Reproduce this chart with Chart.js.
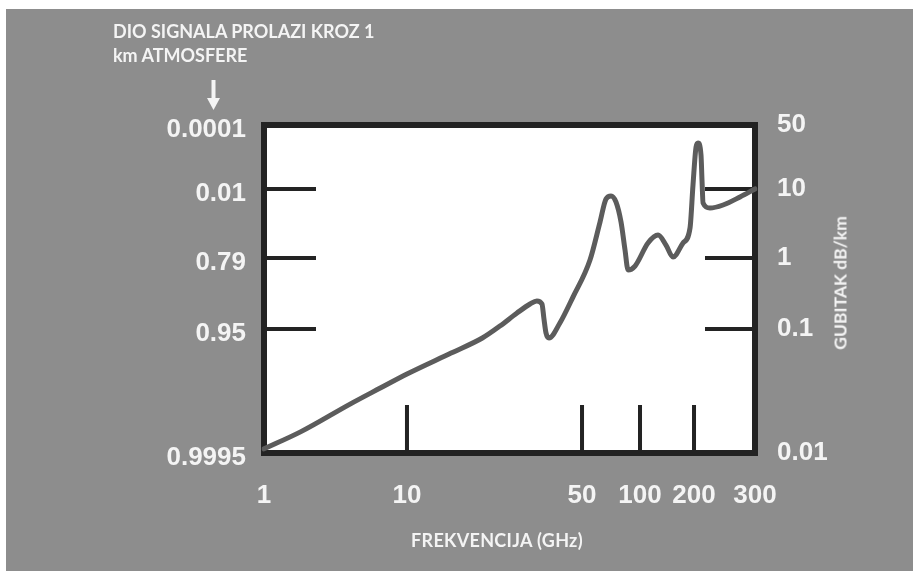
<!DOCTYPE html>
<html>
<head>
<meta charset="utf-8">
<title>Gubitak signala u atmosferi</title>
<script src="https://cdn.jsdelivr.net/npm/chart.js@4.4.0/dist/chart.umd.min.js"></script>
<style>
  html, body { margin: 0; padding: 0; background: #fff; }
  #wrap { position: relative; width: 913px; height: 571px; overflow: hidden; }
  #panel { position: absolute; left: 6px; top: 9px; right: 0; bottom: 0; background: #8d8d8d; }
  #chart { position: absolute; left: 0; top: 0; }
  .txt { position: absolute; color: #f4f4f4; font-family: Lato, 'Liberation Sans', sans-serif; font-weight: bold; white-space: nowrap; line-height: 1.2; }
  #title1 { left: 113px; top: 21px; font-size: 18px; }
  #title2 { left: 113px; top: 45px; font-size: 18px; }
  #xTitle { left: 497px; top: 530px; font-size: 18px; letter-spacing: 0.3px; transform: translateX(-50%); }
  #yTitle { left: 840px; top: 283px; font-size: 17.5px; transform: translate(-50%, -50%) rotate(-90deg); }
  #arrow { position: absolute; left: 206px; top: 80px; }
</style>
</head>
<body>
<div id="wrap">
  <div id="panel"></div>
  <canvas id="chart" width="913" height="571"></canvas>
  <div class="txt" id="title1">DIO SIGNALA PROLAZI KROZ 1</div>
  <div class="txt" id="title2">km ATMOSFERE</div>
  <svg id="arrow" width="15" height="31" viewBox="0 0 15 31">
    <rect x="5.5" y="0" width="4" height="20" fill="#f4f4f4"></rect>
    <polygon points="1,18 14,18 7.5,30" fill="#f4f4f4"></polygon>
  </svg>
  <div class="txt" id="xTitle">FREKVENCIJA (GHz)</div>
  <div class="txt" id="yTitle">GUBITAK dB/km</div>
</div>
<script>
// values
const freqGHz = [1, 1.8, 4, 6.5, 10, 15, 20, 23.5, 27.5, 31, 33, 34.6, 35.2, 35.9, 36.9,
  40.8, 46, 55, 62, 66.6, 70.7, 75, 79.7, 83.6, 86.7, 94.2, 110.8, 126, 139.6, 152.7,
  173.7, 190, 197.4, 202.7, 205.4, 209.5, 210.9, 212.4, 222.4, 242.6, 271.6, 300];
const lossDbKm = [0.0108, 0.0148, 0.0248, 0.0334, 0.0434, 0.064, 0.0846, 0.11, 0.168, 0.225, 0.248, 0.225, 0.143, 0.093, 0.0846,
  0.1215, 0.282, 0.938, 3.32, 7.16, 7.92, 6.48, 3.32, 1.306, 0.678, 0.771, 1.65, 2.15, 1.54, 1.03,
  1.65, 2.72, 11.06, 28.7, 31.8, 23.5, 12.5, 6.27, 5.3, 5.86, 7.66, 10];

// tick labels
const freqTicks = [1, 10, 50, 100, 200, 300];
const lossTicks = [0.01, 0.1, 1, 10, 50];
const fractionLabels = ['0.9995', '0.95', '0.79', '0.01', '0.0001'];

const textColor = '#f4f4f4';
const inkColor = '#232323';
const tickFont = { family: "'Liberation Sans', Arial, sans-serif", size: 26, weight: 'bold' };

// log axis drawn in pieces: each decade step gets its own share of the axis, like the sketch
class SegmentedLogScale extends Chart.LogarithmicScale {
  determineDataLimits() {
    const b = this.options.breaks;
    this.min = b[0];
    this.max = b[b.length - 1];
  }

  buildTicks() {
    return this.options.breaks.map(v => ({ value: v }));
  }

  toDecimal(value) {
    const b = this.options.breaks;
    const s = this.options.stops;
    let i = 0;
    while (i < b.length - 2 && value > b[i + 1]) i++;
    const l0 = Math.log10(b[i]);
    const l1 = Math.log10(b[i + 1]);
    return s[i] + (Math.log10(value) - l0) / (l1 - l0) * (s[i + 1] - s[i]);
  }

  getPixelForValue(value) {
    if (value === undefined || value === null || value <= 0) return NaN;
    return this.getPixelForDecimal(this.toDecimal(value));
  }

  getValueForPixel(pixel) {
    const d = this.getDecimalForPixel(pixel);
    const b = this.options.breaks;
    const s = this.options.stops;
    let i = 0;
    while (i < s.length - 2 && d > s[i + 1]) i++;
    const l0 = Math.log10(b[i]);
    const l1 = Math.log10(b[i + 1]);
    return Math.pow(10, l0 + (d - s[i]) / (s[i + 1] - s[i]) * (l1 - l0));
  }
}
SegmentedLogScale.id = 'segmentedLog';
SegmentedLogScale.defaults = Chart.LogarithmicScale.defaults;
Chart.register(SegmentedLogScale);

// white plot box, thick frame and the short inner tick marks
const framePlugin = {
  id: 'frame',
  beforeDraw(chart) {
    const { ctx, chartArea: a } = chart;
    ctx.save();
    ctx.fillStyle = '#ffffff';
    ctx.fillRect(a.left, a.top, a.right - a.left, a.bottom - a.top);
    ctx.restore();
  },
  beforeDatasetsDraw(chart) {
    const { ctx, chartArea: a, scales } = chart;
    ctx.save();
    ctx.strokeStyle = inkColor;
    ctx.lineWidth = 4;
    ctx.beginPath();
    lossTicks.slice(1, -1).forEach(v => {
      const y = scales.gubitak.getPixelForValue(v);
      ctx.moveTo(a.left, y);
      ctx.lineTo(a.left + 52, y);
      ctx.moveTo(a.right, y);
      ctx.lineTo(a.right - 50, y);
    });
    freqTicks.slice(1, -1).forEach(v => {
      const x = scales.x.getPixelForValue(v);
      ctx.moveTo(x, a.bottom);
      ctx.lineTo(x, a.bottom - 48);
    });
    ctx.stroke();
    ctx.lineWidth = 6;
    ctx.strokeRect(a.left, a.top, a.right - a.left, a.bottom - a.top);
    ctx.restore();
  },
};

const ctx = document.getElementById('chart');

new Chart(ctx, {
  type: 'line',
  data: {
    datasets: [{
      label: 'Gubitak',
      data: freqGHz.map((f, i) => ({ x: f, y: lossDbKm[i] })),
      xAxisID: 'x',
      yAxisID: 'gubitak',
      borderColor: '#5c5c5c',
      borderWidth: 5,
      pointRadius: 0,
      fill: false,
      cubicInterpolationMode: 'monotone',
      borderCapStyle: 'round',
      borderJoinStyle: 'round',
    }],
  },
  options: {
    responsive: false,
    animation: false,
    layout: { padding: { top: 125, left: 0, right: 0, bottom: 0 } },
    plugins: {
      legend: { display: false },
      tooltip: { enabled: false },
    },
    scales: {
      x: {
        type: 'segmentedLog',
        position: 'bottom',
        breaks: freqTicks,
        stops: [0, 0.2912, 0.6477, 0.7658, 0.8758, 1],
        grid: { display: false },
        border: { display: false },
        ticks: {
          color: textColor,
          font: tickFont,
          padding: 19,
          maxRotation: 0,
          autoSkip: false,
          callback: (v, i) => String(freqTicks[i]),
        },
        afterFit: s => { s.height = 118; },
      },
      dio: {
        type: 'segmentedLog',
        position: 'left',
        breaks: lossTicks,
        stops: [0, 0.378, 0.5945, 0.805, 1],
        grid: { display: false },
        border: { display: false },
        ticks: {
          color: textColor,
          font: tickFont,
          padding: 10,
          labelOffset: 5,
          autoSkip: false,
          callback: (v, i) => fractionLabels[i],
        },
        afterFit: s => { s.width = 264; },
      },
      gubitak: {
        type: 'segmentedLog',
        position: 'right',
        breaks: lossTicks,
        stops: [0, 0.378, 0.5945, 0.805, 1],
        grid: { display: false },
        border: { display: false },
        ticks: {
          color: textColor,
          font: tickFont,
          padding: 14,
          autoSkip: false,
          callback: (v, i) => String(lossTicks[i]),
        },
        afterFit: s => { s.width = 158; },
      },
    },
  },
  plugins: [framePlugin],
});
</script>
</body>
</html>
